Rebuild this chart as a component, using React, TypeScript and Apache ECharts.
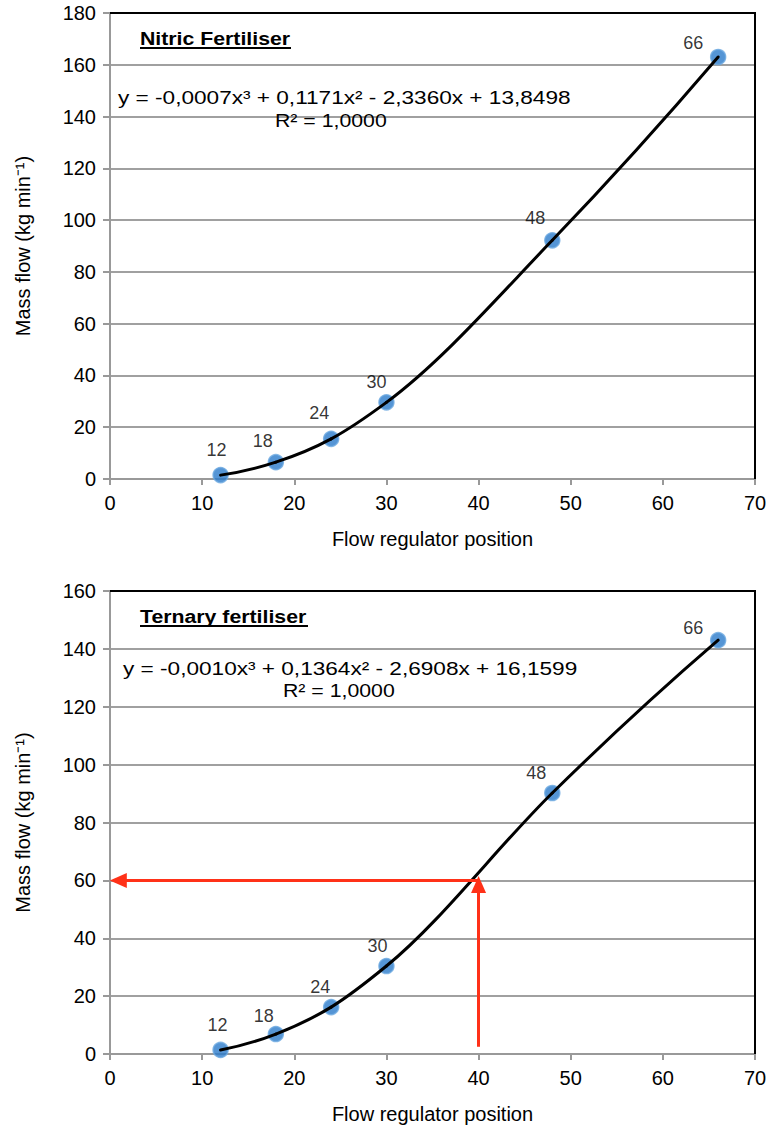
import React, { useEffect, useRef } from "react";
import * as echarts from "echarts";

// ---- data ----
const positions = [12, 18, 24, 30, 48, 66];
const nitricFlow = [1.5, 6.5, 15.5, 29.6, 92.2, 163];
const ternaryFlow = [1.4, 6.9, 16.2, 30.4, 90.2, 143];

const nitricTitle = "Nitric Fertiliser";
const nitricEquation = "y = -0,0007x³ + 0,1171x² - 2,3360x + 13,8498";
const nitricR2 = "R² = 1,0000";
const ternaryTitle = "Ternary fertiliser";
const ternaryEquation = "y = -0,0010x³ + 0,1364x² - 2,6908x + 16,1599";
const ternaryR2 = "R² = 1,0000";

const xAxisName = "Flow regulator position";
const yAxisName = "Mass flow (kg min⁻¹)";

// reading example on ternary chart
const readPosition = 40;
const readFlow = 60;

// ---- layout / style ----
const FONT = "Liberation Sans, Arial, Helvetica, sans-serif";
const nitricLabelOffsets = [[-4, -25], [-13, -21], [-12, -26], [-10, -20], [-17, -22], [-25, -14]];
const ternaryLabelOffsets = [[-3, -25], [-12, -18], [-11, -20], [-9, -20], [-16, -20], [-25, -12]];

const grids = [
  { left: 110, top: 13, width: 645, height: 466 },
  { left: 110, top: 591, width: 645, height: 463 },
];

function makeX(gridIndex: number) {
  return {
    type: "value",
    gridIndex,
    min: 0,
    max: 70,
    interval: 10,
    name: xAxisName,
    nameLocation: "middle",
    nameGap: 50,
    nameTextStyle: { fontFamily: FONT, fontSize: 20, color: "#000" },
    axisLine: { show: true, onZero: false, lineStyle: { color: "#999", width: 2 } },
    axisTick: { show: true, length: 6, lineStyle: { color: "#999", width: 2 } },
    axisLabel: { fontFamily: FONT, fontSize: 20, color: "#000", margin: 14 },
    splitLine: { show: false },
  };
}

function makeY(gridIndex: number, max: number) {
  return {
    type: "value",
    gridIndex,
    min: 0,
    max,
    interval: 20,
    name: yAxisName,
    nameLocation: "middle",
    nameGap: 77,
    nameTextStyle: { fontFamily: FONT, fontSize: 20, color: "#000" },
    axisLine: { show: true, onZero: false, lineStyle: { color: "#999", width: 2 } },
    axisTick: { show: true, length: 7, lineStyle: { color: "#999", width: 2 } },
    axisLabel: { fontFamily: FONT, fontSize: 20, color: "#000", margin: 14 },
    splitLine: { show: true, lineStyle: { color: "#a0a0a0", width: 2 } },
  };
}

function scatterSeries(idx: number, values: number[], offsets: number[][], extra: any = {}) {
  return {
    type: "scatter",
    xAxisIndex: idx,
    yAxisIndex: idx,
    symbol: "circle",
    symbolSize: 15,
    itemStyle: { color: "#2a7bcb", borderColor: "#6aa8e0", borderWidth: 1.5 },
    z: 3,
    label: {
      show: true,
      position: "inside",
      fontFamily: FONT,
      fontSize: 18,
      color: "#000",
      textBorderWidth: 0,
      formatter: (p: any) => String(p.value[0]),
    },
    data: positions.map((x, i) => ({
      value: [x, values[i]],
      label: { offset: offsets[i] },
    })),
    ...extra,
  };
}

// smooth trend curve through the data points (cubic Hermite rendered as bezier segments)
function tangents(xs: number[], ys: number[]) {
  const n = xs.length;
  const h: number[] = [];
  const s: number[] = [];
  for (let i = 0; i < n - 1; i++) {
    h.push(xs[i + 1] - xs[i]);
    s.push((ys[i + 1] - ys[i]) / h[i]);
  }
  const m: number[] = [];
  for (let i = 0; i < n; i++) {
    if (i === 0) m.push(((2 * h[0] + h[1]) * s[0] - h[0] * s[1]) / (h[0] + h[1]));
    else if (i === n - 1) {
      const a = h[n - 2], b = h[n - 3];
      m.push(((2 * a + b) * s[n - 2] - a * s[n - 3]) / (a + b));
    } else m.push((h[i] * s[i - 1] + h[i - 1] * s[i]) / (h[i - 1] + h[i]));
  }
  return m;
}

function trendSeries(idx: number, values: number[]) {
  const m = tangents(positions, values);
  return {
    type: "custom",
    xAxisIndex: idx,
    yAxisIndex: idx,
    z: 4,
    clip: false,
    silent: true,
    data: positions.map((x, i) => [x, values[i]]),
    renderItem: (params: any, api: any) => {
      if (params.dataIndex !== 0) return null;
      const children: any[] = [];
      for (let i = 0; i < positions.length - 1; i++) {
        const x0 = positions[i], x1 = positions[i + 1];
        const y0 = values[i], y1 = values[i + 1];
        const hh = (x1 - x0) / 3;
        const p0 = api.coord([x0, y0]);
        const p1 = api.coord([x1, y1]);
        const c0 = api.coord([x0 + hh, y0 + m[i] * hh]);
        const c1 = api.coord([x1 - hh, y1 - m[i + 1] * hh]);
        children.push({
          type: "bezierCurve",
          shape: { x1: p0[0], y1: p0[1], x2: p1[0], y2: p1[1], cpx1: c0[0], cpy1: c0[1], cpx2: c1[0], cpy2: c1[1] },
          style: { stroke: "#000", lineWidth: 3, fill: null, lineCap: "round" },
        });
      }
      return { type: "group", children };
    },
  };
}

function textEl(text: string, x: number, y: number, fontSize: number, scaleX: number, bold = false) {
  return {
    type: "text",
    x,
    y,
    scaleX,
    z: 10,
    style: {
      text,
      fontFamily: FONT,
      fontSize,
      fontWeight: bold ? "bold" : "normal",
      fill: "#000",
      textAlign: "left",
      textVerticalAlign: "middle",
      verticalAlign: "middle",
    },
  };
}

function borderEls(g: { left: number; top: number; width: number; height: number }) {
  const r = g.left + g.width;
  const b = g.top + g.height;
  return [
    { type: "line", z: 20, shape: { x1: g.left, y1: g.top, x2: r + 1, y2: g.top }, style: { stroke: "#000", lineWidth: 2 } },
    { type: "line", z: 20, shape: { x1: r, y1: g.top, x2: r, y2: b }, style: { stroke: "#000", lineWidth: 2 } },
  ];
}

export default function App() {
  const ref = useRef<HTMLDivElement>(null);
  useEffect(() => {
    if (!ref.current) return;
    const chart = echarts.init(ref.current, null, { renderer: "svg" });
    const red = "#ff3118";
    chart.setOption({
      animation: false,
      backgroundColor: "#fff",
      grid: grids.map((g) => ({ ...g, show: false })),
      xAxis: [makeX(0), makeX(1)],
      yAxis: [makeY(0, 180), makeY(1, 160)],
      series: [
        scatterSeries(0, nitricFlow, nitricLabelOffsets),
        trendSeries(0, nitricFlow),
        scatterSeries(1, ternaryFlow, ternaryLabelOffsets, {
          markLine: {
            silent: true,
            symbol: ["none", "triangle"],
            symbolSize: [15, 17],
            label: { show: false },
            lineStyle: { color: red, width: 3, type: "solid" },
            itemStyle: { color: red },
            emphasis: { disabled: true },
            data: [
              [{ coord: [readPosition, readFlow] }, { coord: [0.9, readFlow] }],
              [{ coord: [readPosition, 2.5] }, { coord: [readPosition, 58.6] }],
            ],
          },
        }),
        trendSeries(1, ternaryFlow),
      ],
      graphic: [
        ...borderEls(grids[0]),
        ...borderEls(grids[1]),
        textEl(nitricTitle, 140, 38, 19, 1.12, true),
        { type: "line", z: 10, shape: { x1: 140, y1: 48, x2: 291, y2: 48 }, style: { stroke: "#000", lineWidth: 2 } },
        textEl(nitricEquation, 118, 97, 19, 1.19),
        textEl(nitricR2, 275, 120, 19, 1.12),
        textEl(ternaryTitle, 140, 616, 19, 1.12, true),
        { type: "line", z: 10, shape: { x1: 140, y1: 626, x2: 308, y2: 626 }, style: { stroke: "#000", lineWidth: 2 } },
        textEl(ternaryEquation, 123, 668, 19, 1.19),
        textEl(ternaryR2, 283, 690, 19, 1.12),
      ],
    });
    return () => chart.dispose();
  }, []);
  return (
    <div
      ref={ref}
      style={{ position: "absolute", left: 0, top: 0, width: 771, height: 1131, background: "#fff" }}
    />
  );
}
